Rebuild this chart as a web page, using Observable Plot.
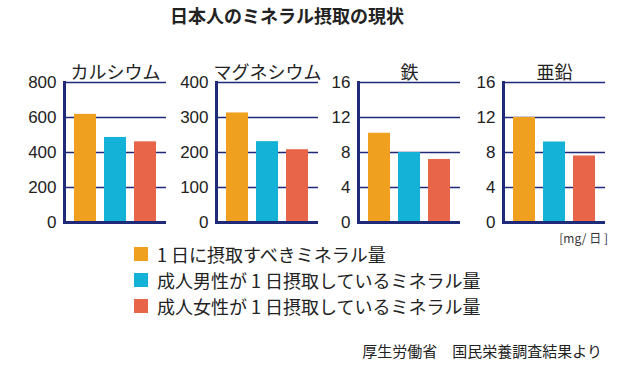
<!DOCTYPE html>
<html>
<head>
<meta charset="utf-8">
<script src="https://cdn.jsdelivr.net/npm/d3@7"></script>
<script src="https://cdn.jsdelivr.net/npm/@observablehq/plot@0.6"></script>
<style>
  html, body { margin: 0; padding: 0; background: #fff; }
  #root { position: relative; width: 628px; height: 372px; overflow: hidden; background: #fff;
    font-family: "Liberation Sans", "Noto Sans CJK JP", sans-serif; color: #222; }
  .abs { position: absolute; white-space: nowrap; }
  .panel { position: absolute; }
</style>
</head>
<body>
<div id="root"></div>
<script>
// ---- data ----
const minerals = ["カルシウム", "マグネシウム", "鉄", "亜鉛"];
const seriesNames = [
  "1 日に摂取すべきミネラル量",
  "成人男性が 1 日摂取しているミネラル量",
  "成人女性が 1 日摂取しているミネラル量"
];
const seriesColors = ["#F0A01F", "#13B2D6", "#E8654A"];
const recommended = [618, 313, 10.2, 12.0];
const maleIntake = [486, 231, 8.0, 9.2];
const femaleIntake = [461, 208, 7.2, 7.6];
const yMax = [800, 400, 16, 16];
const yTicks = [
  [0, 200, 400, 600, 800],
  [0, 100, 200, 300, 400],
  [0, 4, 8, 12, 16],
  [0, 4, 8, 12, 16]
];
const titleText = "日本人のミネラル摂取の現状";
const unitText = "[mg/ 日 ]";
const sourceText = "厚生労働省　国民栄養調査結果より";

// ---- layout ----
const navy = "#1F2A78";
const axisX = [63.5, 216, 358, 503];
const ML = 50, FW = 102, MR = 3, MT = 32, MB = 6, FH = 140;
const svgTop = 82 - MT;

const root = document.getElementById("root");

function addText(txt, left, centerY, size, opts = {}) {
  const d = document.createElement("div");
  d.className = "abs";
  d.textContent = txt;
  d.style.fontSize = size + "px";
  d.style.lineHeight = size + "px";
  d.style.top = (centerY - size / 2) + "px";
  if (opts.right != null) { d.style.right = opts.right + "px"; }
  else d.style.left = left + "px";
  if (opts.bold) d.style.fontWeight = "bold";
  if (opts.family) d.style.fontFamily = opts.family;
  if (opts.color) d.style.color = opts.color;
  root.appendChild(d);
  return d;
}

// title
addText(titleText, 170, 15, 18, {bold: true, family: '"Noto Sans CJK JP", sans-serif', color: "#222"});

// panels
minerals.forEach((name, i) => {
  const rows = [
    {s: seriesNames[0], v: recommended[i]},
    {s: seriesNames[1], v: maleIntake[i]},
    {s: seriesNames[2], v: femaleIntake[i]}
  ];
  const chart = Plot.plot({
    width: ML + FW + MR,
    height: MT + FH + MB,
    marginLeft: ML, marginRight: MR, marginTop: MT, marginBottom: MB,
    style: {background: "transparent", overflow: "visible",
            fontFamily: '"Liberation Sans", "Noto Sans CJK JP", sans-serif', color: "#222"},
    x: {domain: seriesNames, paddingInner: 0.26, paddingOuter: 0.28, axis: null},
    y: {domain: [0, yMax[i]], axis: null},
    color: {domain: seriesNames, range: seriesColors},
    marks: [
      Plot.ruleY(yTicks[i].filter(t => t > 0), {stroke: navy, strokeWidth: 1.6}),
      Plot.barY(rows, {x: "s", y: "v", fill: "s"}),
      Plot.ruleY([0], {stroke: navy, strokeWidth: 3}),
      Plot.frame({anchor: "left", stroke: navy, strokeWidth: 3}),
      Plot.axisY({ticks: yTicks[i], tickSize: 0, tickPadding: 8, fontSize: 17, label: null, tickFormat: d => String(d)}),
      Plot.text([name], {frameAnchor: "top", dy: -16, fontSize: 18, fill: "#222",
                         fontFamily: '"Noto Sans CJK JP", sans-serif'})
    ]
  });
  const wrap = document.createElement("div");
  wrap.className = "panel";
  wrap.style.left = (axisX[i] - ML) + "px";
  wrap.style.top = svgTop + "px";
  wrap.appendChild(chart);
  root.appendChild(wrap);
});

// unit
addText(unitText, null, 238, 12, {right: 20, family: '"Noto Sans CJK JP", sans-serif', color: "#333"});

// legend
const legendY = [254, 280, 306];
seriesNames.forEach((s, i) => {
  const sq = document.createElement("div");
  sq.className = "abs";
  sq.style.left = "134px";
  sq.style.top = (legendY[i] - 7) + "px";
  sq.style.width = "14px";
  sq.style.height = "14px";
  sq.style.background = seriesColors[i];
  root.appendChild(sq);
  addText(s, 157, legendY[i], 18, {family: '"Noto Sans CJK JP", sans-serif', color: "#222"});
});

// source
addText(sourceText, null, 350, 15, {right: 26, family: '"Noto Sans CJK JP", sans-serif', color: "#222"});
</script>
</body>
</html>
